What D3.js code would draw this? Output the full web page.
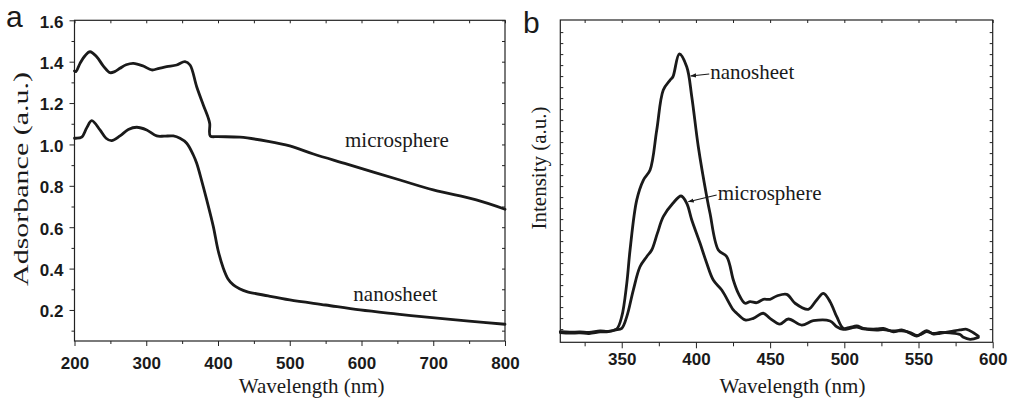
<!DOCTYPE html>
<html>
<head>
<meta charset="utf-8">
<script src="https://cdn.jsdelivr.net/npm/d3@7"></script>
<style>
  body { margin: 0; background: #fff; }
  svg text { fill: #1a1a1a; }
  .tick text { font-family: "Liberation Sans", Arial, sans-serif; font-weight: bold; font-size: 17px; }
  .tick line { stroke: #222; }
  .serif { font-family: "Liberation Serif", "Times New Roman", serif; font-size: 21px; }
  .panel { font-family: "Liberation Sans", Arial, sans-serif; font-size: 30px; }
  .spec { fill: none; stroke: #1a1a1a; stroke-width: 2.8px; stroke-linejoin: round; stroke-linecap: round; }
</style>
</head>
<body>
<svg id="fig" width="1013" height="398"></svg>
<script>
// UV-vis absorbance, [wavelength nm, absorbance]
var uvMicrosphere = [
  [200, 1.355], [202, 1.352], [207.7, 1.392], [215, 1.43], [221.6, 1.448], [230.9, 1.424],
  [240, 1.38], [249.5, 1.347], [256, 1.352], [263.4, 1.368], [272, 1.385], [282, 1.392],
  [295.9, 1.379], [307.6, 1.36], [318, 1.368], [328.5, 1.376], [342.4, 1.384], [354, 1.4],
  [361, 1.384], [370.3, 1.279], [379.5, 1.191], [386.5, 1.127], [388.5, 1.10], [389.2, 1.041],
  [400, 1.038], [430.7, 1.035], [470, 1.015], [500, 0.993], [533, 0.954], [580, 0.905],
  [653.6, 0.828], [700, 0.78], [760, 0.732], [800, 0.687]
];
var uvNanosheet = [
  [200, 1.03], [202, 1.03], [210, 1.035], [217, 1.08], [224, 1.115], [235.5, 1.07],
  [244, 1.03], [251.8, 1.018], [263.4, 1.041], [275, 1.072], [286.7, 1.083], [300.6, 1.07],
  [314.6, 1.041], [325, 1.04], [337.7, 1.041], [347, 1.03], [356.4, 1.006], [365.6, 0.949],
  [370.3, 0.909], [377, 0.828], [384.3, 0.732], [393.5, 0.603], [400, 0.49], [407.4, 0.402],
  [414, 0.35], [421.4, 0.321], [430, 0.303], [440, 0.289], [470, 0.268], [500, 0.249],
  [550, 0.224], [598, 0.2], [650, 0.18], [691, 0.165], [750, 0.146], [800, 0.131]
];

// photoluminescence, [wavelength nm, intensity a.u.]
var plNanosheet = [
  [308.6, 96], [315, 92], [321.9, 94], [328, 90], [335.4, 103], [341, 100], [346.6, 121],
  [350, 233], [353.4, 536], [355.6, 839], [360.1, 1293], [364.6, 1475], [369.1, 1566],
  [373.6, 1930], [378, 2293], [382.6, 2384], [384.5, 2414], [388.8, 2621], [393.8, 2505],
  [397.2, 2233], [401.6, 1778], [407.3, 1324], [409.5, 1173], [415.1, 839], [420.8, 778],
  [425.2, 566], [428.6, 445], [433.1, 355], [436.5, 369], [441, 360], [445.4, 391],
  [449.9, 391], [454.5, 421], [461.2, 436], [466.8, 355], [475.7, 300], [481.4, 385],
  [485.9, 445], [490.4, 369], [494.9, 233], [499.3, 127], [503.8, 136], [508.4, 148],
  [512.8, 127], [521.8, 121], [526.3, 127], [533, 96], [538.7, 112], [544.3, 82],
  [548.8, 57], [552.2, 82], [555.5, 105], [560, 75], [564.5, 82], [571.2, 96],
  [578, 112], [582.5, 118], [587, 87], [590.3, 57]
];
var plMicrosphere = [
  [308.6, 89], [315, 84], [321.9, 85], [328, 80], [335.4, 94], [341, 98], [345.5, 112],
  [350, 127], [353.4, 233], [357.8, 475], [362.3, 687], [366.8, 778], [370.2, 839],
  [374, 990], [378, 1142], [384.5, 1264], [390, 1330], [393.8, 1264], [397.2, 1112],
  [402.8, 900], [407, 730], [411.7, 566], [417.4, 475], [425.2, 294], [427.5, 264],
  [433.1, 203], [438.7, 218], [445.4, 264], [449.9, 218], [456.6, 166], [462.3, 212],
  [471.3, 157], [479.1, 196], [490.4, 194], [494.9, 142], [499.3, 118], [503.8, 127],
  [508.4, 139], [512.8, 121], [521.8, 112], [526.3, 116], [533, 103], [538.7, 103],
  [544.3, 89], [548.8, 62], [552.2, 75], [555.5, 98], [560, 80], [564.5, 89],
  [571.2, 85], [578, 71], [580.3, 45], [584.8, 27], [590.3, 45]
];

// ticks
var uvXTicks = [200, 300, 400, 500, 600, 700, 800];
var uvXMinor = [250, 350, 450, 550, 650, 750];
var uvYTicks = [0.2, 0.4, 0.6, 0.8, 1.0, 1.2, 1.4, 1.6];
var uvYMinor = [0.1, 0.3, 0.5, 0.7, 0.9, 1.1, 1.3, 1.5];
var plXTicks = [350, 400, 450, 500, 550, 600];
var plXMinor = [325, 375, 425, 475, 525, 575];
var plYTicks = d3.range(120, 2900, 100);

var svg = d3.select('#fig');

function drawPath(g, data, x, y) {
  g.append('path')
    .datum(data)
    .attr('class', 'spec')
    .attr('d', d3.line().curve(d3.curveCatmullRom.alpha(0.5))
      .x(function(d) { return x(d[0]); })
      .y(function(d) { return y(d[1]); }));
}

function clean(sel) {
  sel.select('.domain').remove();
}

function frame(g, w, h) {
  g.append('rect')
    .attr('width', w).attr('height', h)
    .attr('fill', 'none').attr('stroke', '#222').attr('stroke-width', 1.2);
}

// ---- panel a: absorbance ----
var aw = 430.5, ah = 320.7;
var ga = svg.append('g').attr('transform', 'translate(74.5,20.3)');
var xa = d3.scaleLinear().domain([200, 800]).range([0, aw]);
var ya = d3.scaleLinear().domain([0.05, 1.6]).range([ah, 0]);

// outward major + minor ticks, inward mirror ticks
ga.append('g').attr('transform', 'translate(0,' + ah + ')')
  .call(d3.axisBottom(xa).tickValues(uvXTicks).tickSize(5).tickFormat(d3.format('d')))
  .call(clean)
  .selectAll('text').attr('y', 28).attr('dy', 0);
ga.append('g').attr('transform', 'translate(0,' + ah + ')')
  .call(d3.axisBottom(xa).tickValues(uvXMinor).tickSize(3).tickFormat(''))
  .call(clean);
ga.append('g')
  .call(d3.axisLeft(ya).tickValues(uvYTicks).tickSize(5).tickFormat(d3.format('.1f')))
  .call(clean)
  .selectAll('text').attr('x', -11).attr('dy', '0.4em');
ga.append('g')
  .call(d3.axisLeft(ya).tickValues(uvYMinor).tickSize(3).tickFormat(''))
  .call(clean);
ga.append('g')
  .call(d3.axisTop(xa).tickValues(uvXTicks.concat(uvXMinor)).tickSize(-3).tickFormat(''))
  .call(clean);
ga.append('g').attr('transform', 'translate(' + aw + ',0)')
  .call(d3.axisRight(ya).tickValues(uvYTicks.concat(uvYMinor)).tickSize(-3).tickFormat(''))
  .call(clean);
ga.selectAll('.tick line').attr('stroke', '#555');
frame(ga, aw, ah);

drawPath(ga, uvMicrosphere, xa, ya);
drawPath(ga, uvNanosheet, xa, ya);

ga.append('text').attr('class', 'serif').attr('x', xa(577)).attr('y', ya(0.989)).text('microsphere');
ga.append('text').attr('class', 'serif').attr('x', xa(588.6)).attr('y', ya(0.245)).text('nanosheet');

svg.append('text').attr('class', 'serif').attr('text-anchor', 'middle')
  .attr('x', 311.7).attr('y', 393).text('Wavelength (nm)');
svg.append('text').attr('class', 'serif').attr('text-anchor', 'middle')
  .attr('transform', 'translate(28,179) rotate(-90)')
  .style('font-size', '22px')
  .attr('textLength', 214).attr('lengthAdjust', 'spacingAndGlyphs')
  .text('Adsorbance (a.u.)');
svg.append('text').attr('class', 'panel').attr('x', 6).attr('y', 27).text('a');

// ---- panel b: photoluminescence ----
var bw = 432.4, bh = 322.3;
var gb = svg.append('g').attr('transform', 'translate(560.3,20)');
var xb = d3.scaleLinear().domain([308.6, 600]).range([0, bw]);
var yb = d3.scaleLinear().domain([0, 2930]).range([bh, 0]);

gb.append('g').attr('transform', 'translate(0,' + bh + ')')
  .call(d3.axisBottom(xb).tickValues(plXTicks).tickSize(6).tickFormat(d3.format('d')))
  .call(clean)
  .selectAll('text').attr('y', 23).attr('dy', 0);
gb.append('g').attr('transform', 'translate(0,' + bh + ')')
  .call(d3.axisBottom(xb).tickValues(plXMinor).tickSize(4).tickFormat(''))
  .call(clean);
gb.append('g')
  .call(d3.axisTop(xb).tickValues(plXTicks.concat(plXMinor)).tickSize(-3).tickFormat(''))
  .call(clean);
gb.append('g')
  .call(d3.axisLeft(yb).tickValues(plYTicks).tickSize(-3).tickFormat(''))
  .call(clean);
gb.append('g').attr('transform', 'translate(' + bw + ',0)')
  .call(d3.axisRight(yb).tickValues(plYTicks).tickSize(-3).tickFormat(''))
  .call(clean);
gb.selectAll('.tick line').attr('stroke', '#666');
frame(gb, bw, bh);

drawPath(gb, plMicrosphere, xb, yb);
drawPath(gb, plNanosheet, xb, yb);

// arrow labels
svg.append('defs').append('marker')
  .attr('id', 'head').attr('viewBox', '0 0 10 10').attr('refX', 9).attr('refY', 5)
  .attr('markerWidth', 5).attr('markerHeight', 5).attr('orient', 'auto-start-reverse')
  .append('path').attr('d', 'M0,1.5L10,5L0,8.5z').attr('fill', '#1a1a1a');

var notes = [
  { text: 'nanosheet', from: [409, 2439], to: [396.5, 2421] },
  { text: 'microsphere', from: [414, 1339], to: [394.9, 1278] }
];
notes.forEach(function(n) {
  gb.append('line')
    .attr('x1', xb(n.from[0])).attr('y1', yb(n.from[1]))
    .attr('x2', xb(n.to[0])).attr('y2', yb(n.to[1]))
    .attr('stroke', '#1a1a1a').attr('stroke-width', 1.2)
    .attr('marker-end', 'url(#head)');
  gb.append('text').attr('class', 'serif')
    .attr('x', xb(n.from[0]) + 1).attr('y', yb(n.from[1]) + 5)
    .text(n.text);
});

svg.append('text').attr('class', 'serif').attr('text-anchor', 'middle')
  .attr('x', 792.5).attr('y', 393).text('Wavelength (nm)');
svg.append('text').attr('class', 'serif').attr('text-anchor', 'middle')
  .attr('transform', 'translate(546,168) rotate(-90)').text('Intensity (a.u.)');
svg.append('text').attr('class', 'panel').attr('x', 523).attr('y', 33).text('b');
</script>
</body>
</html>
